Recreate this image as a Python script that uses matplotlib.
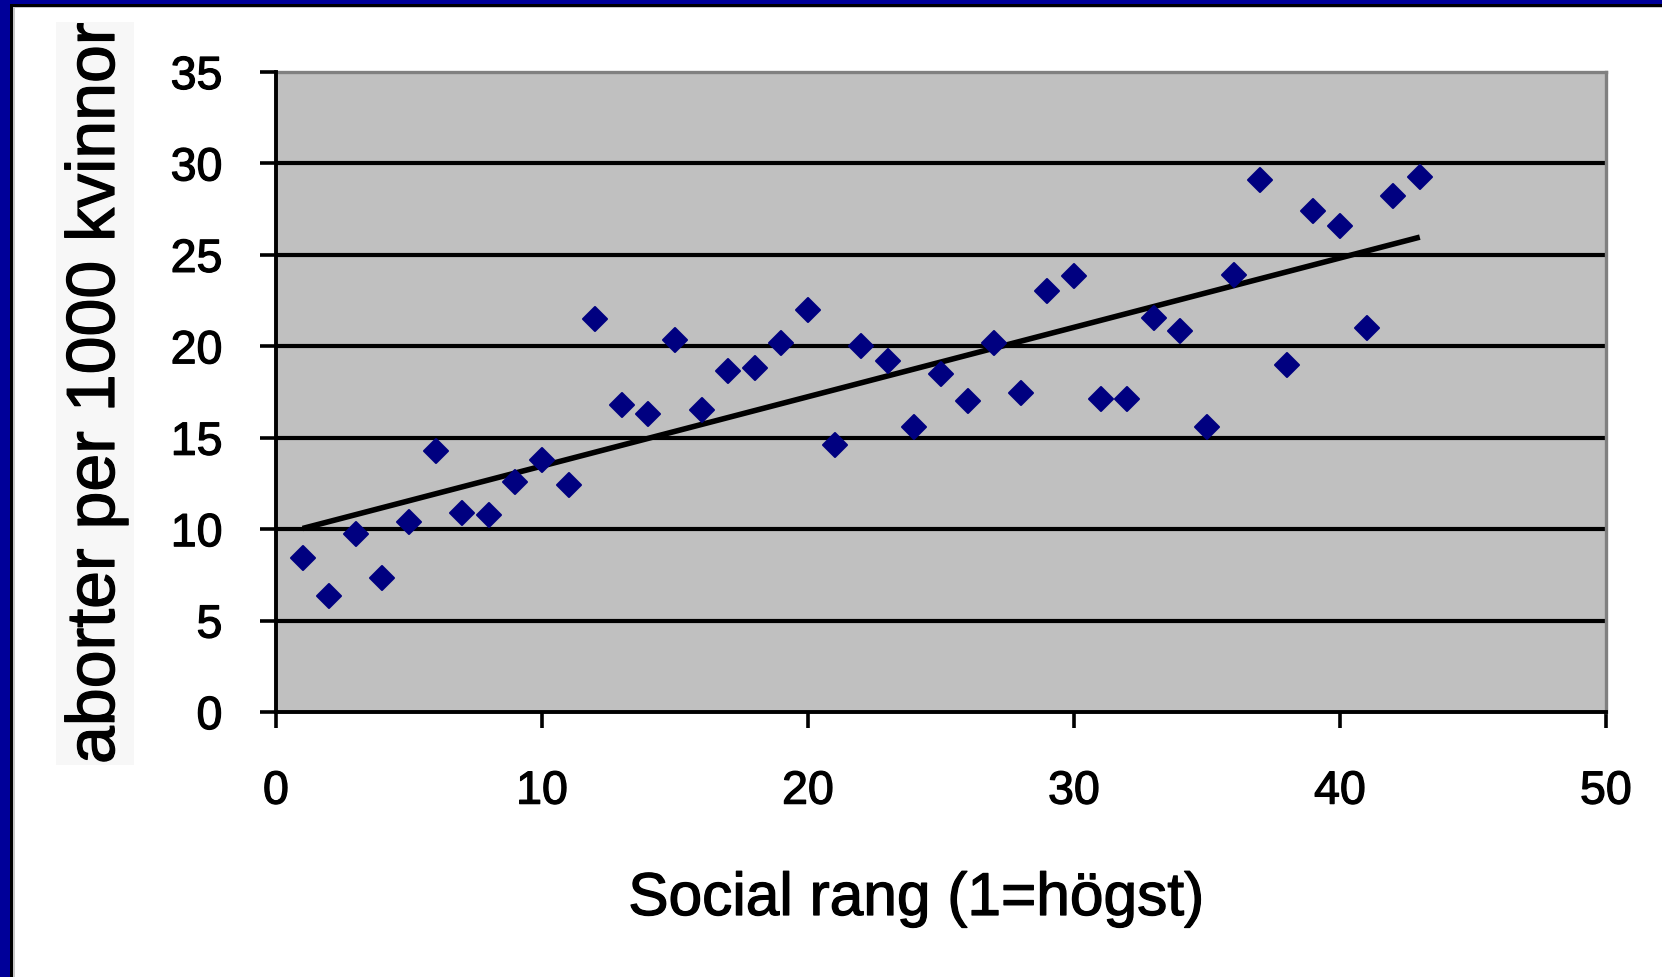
import numpy as np
import matplotlib
matplotlib.use("Agg")
from matplotlib import pyplot as plt
from matplotlib.patches import Rectangle
from matplotlib.markers import MarkerStyle
import matplotlib.patheffects as pe

plt.rcParams['font.family'] = ['Liberation Sans', 'DejaVu Sans']

# social rank (1 = highest) and abortions per 1000 women
rang = np.arange(1, 44)
aborter = [8.4, 6.35, 9.72, 7.35, 10.4, 14.3, 10.9, 10.75, 12.6, 13.8,
           12.42, 21.5, 16.8, 16.3, 20.35, 16.5, 18.66, 18.8, 20.18, 22.0,
           14.6, 20.02, 19.17, 15.6, 18.46, 17.0, 20.16, 17.45, 23.02, 23.86,
           17.13, 17.13, 21.52, 20.84, 15.61, 23.88, 29.07, 19.0, 27.4, 26.58,
           21.02, 28.24, 29.26]

x_ticks = [0, 10, 20, 30, 40, 50]
y_ticks = [0, 5, 10, 15, 20, 25, 30, 35]

W, H = 1662, 977
fig = plt.figure(figsize=(W / 100, H / 100), dpi=100)
fig.patch.set_facecolor("white")

# slightly heavier strokes for all text
heavy = [pe.withStroke(linewidth=0.9, foreground="black")]

# frame on the left and top
blue = "#000099"
fig.add_artist(Rectangle((0, 0), 10 / W, 1, transform=fig.transFigure, color=blue, lw=0))
fig.add_artist(Rectangle((10 / W, 0), 3 / W, 1, transform=fig.transFigure, color="black", lw=0))
fig.add_artist(Rectangle((13 / W, 0), 1.5 / W, 1, transform=fig.transFigure, color="#c8c8c8", lw=0))
fig.add_artist(Rectangle((0, 1 - 4 / H), 1, 4 / H, transform=fig.transFigure, color=blue, lw=0))
fig.add_artist(Rectangle((10 / W, 1 - 7 / H), 1, 3 / H, transform=fig.transFigure, color="black", lw=0))
fig.add_artist(Rectangle((13 / W, 1 - 8 / H), 1, 1 / H, transform=fig.transFigure, color="#c8c8c8", lw=0))

ax = fig.add_axes([276 / W, 1 - 712 / H, 1330 / W, 640 / H])
ax.set_facecolor("#c0c0c0")
ax.set_xlim(0, 50)
ax.set_ylim(0, 35)

for y in y_ticks[1:-1]:
    ax.axhline(y, color="black", lw=3.0, zorder=1)

# linear trend
k, m = np.polyfit(rang, aborter, 1)
xl = np.array([rang[0], rang[-1]])
ax.plot(xl, k * xl + m, color="black", lw=4.0, zorder=2, solid_capstyle="butt")

diamond = MarkerStyle("D", joinstyle="round")
ax.plot(rang, aborter, linestyle="none", marker=diamond, markersize=12.5,
        color="#000080", markeredgecolor="#000080", markeredgewidth=1.5,
        zorder=3)

for s in ["left", "bottom"]:
    ax.spines[s].set_color("black")
    ax.spines[s].set_linewidth(2.8)
for s in ["top", "right"]:
    ax.spines[s].set_color("#808080")
    ax.spines[s].set_linewidth(2.4)

ax.set_xticks(x_ticks)
ax.set_yticks(y_ticks)
ax.tick_params(axis="both", direction="out", length=11.5, width=2.6,
               colors="black", labelsize=33.5)
ax.tick_params(axis="x", pad=30)
ax.tick_params(axis="y", pad=27)
ax.spines["bottom"].set_zorder(4)
ax.spines["left"].set_zorder(4)
for lab in ax.get_xticklabels() + ax.get_yticklabels():
    lab.set_path_effects(heavy)

fig.text(916 / W, 1 - 915 / H, "Social rang (1=högst)", fontsize=43.5,
         ha="center", va="baseline", path_effects=heavy)

# y label on a light box, clipped at the box top
box = Rectangle((56 / W, 1 - 765 / H), 78 / W, 743 / H, transform=fig.transFigure,
                facecolor="#f7f7f7", edgecolor="none")
fig.add_artist(box)
yl = fig.text(96 / W, 1 - 764 / H, "aborter per 1000 kvinnor", fontsize=49,
              rotation=90, ha="center", va="bottom", path_effects=heavy)
yl.set_clip_path(box)

fig.savefig("out.png", dpi=100)
